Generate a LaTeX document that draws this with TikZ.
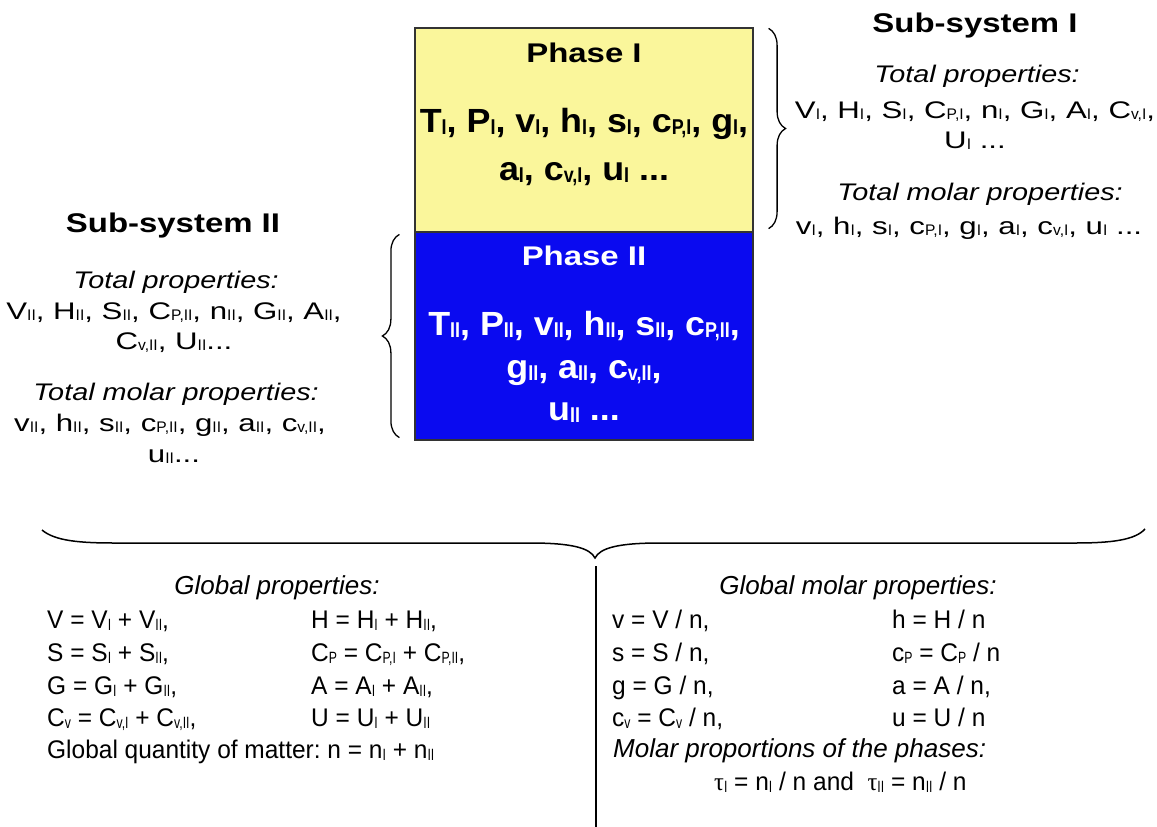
\documentclass[tikz,border=0pt]{standalone}
\usepackage{fontspec}
\usepackage{graphicx}
\setmainfont{Liberation Sans}
\newfontfamily\widefont{Liberation Sans}[FakeStretch=1.2]
\newfontfamily\sidefont{Liberation Sans}[FakeStretch=1.3]
\newfontfamily\titlefont{Liberation Sans}[FakeStretch=1.22]
\newfontfamily\boxfont{Liberation Sans}[FakeStretch=1.07]
\newfontfamily\globfont{Liberation Sans}[FakeStretch=0.96]
\newfontfamily\greekfont{Liberation Serif}[FakeStretch=0.96]
\usetikzlibrary{decorations.pathreplacing}
\newcommand\sbs[1]{\raisebox{-0.08em}{\scalebox{0.5}[0.64]{#1}}}
\definecolor{phaseyellow}{RGB}{250,246,155}
\definecolor{phaseblue}{RGB}{10,10,240}
\frenchspacing
\begin{document}
\begin{tikzpicture}[x=1pt,y=-1pt,
  phasebox/.style={draw=black!80, line width=1.2pt, minimum width=338pt, inner sep=0pt},
  titletext/.style={anchor=base, inner sep=0pt, font=\titlefont\bfseries\fontsize{27}{30}\selectfont},
  sidehead/.style={anchor=base, inner sep=0pt, font=\widefont\itshape\fontsize{24}{28}\selectfont},
  sidetext/.style={anchor=base, inner sep=0pt, font=\sidefont\fontsize{24}{28}\selectfont},
  boxtext/.style={anchor=base, inner sep=0pt, font=\boxfont\bfseries\fontsize{33.5}{36}\selectfont},
  globhead/.style={anchor=base, inner sep=0pt, font=\itshape\fontsize{26}{30}\selectfont},
  globital/.style={anchor=base west, inner sep=0pt, font=\itshape\fontsize{26}{30}\selectfont},
  globtext/.style={anchor=base west, inner sep=0pt, font=\globfont\fontsize{25.5}{30}\selectfont},
  sidebrace/.style={draw, line width=1.3pt, decorate, decoration={brace, amplitude=17pt}},
  bigbrace/.style={draw, line width=1.5pt},
  divider/.style={draw, line width=1.3pt}
]
\useasboundingbox (0,0) rectangle (1157,827);

% phase boxes
\node[phasebox, fill=phaseyellow, minimum height=204pt] (p1) at (584,130) {};
\node[phasebox, fill=phaseblue, minimum height=208pt] (p2) at (584,336) {};

% side braces
\draw[sidebrace] ([xshift=15pt,yshift=-1pt]p1.north east) -- ([xshift=15pt,yshift=4pt]p1.south east);
\draw[sidebrace] ([xshift=-15pt,yshift=3pt]p2.south west) -- ([xshift=-15pt,yshift=-3pt]p2.north west);

% box texts
\node[titletext] (p1t) at (584,62) {Phase I};
\node[boxtext] (p1l1) at (584,132) {T\sbs{I}, P\sbs{I}, v\sbs{I}, h\sbs{I}, s\sbs{I}, c\sbs{P,I}, g\sbs{I},};
\node[boxtext] (p1l2) at (584,180) {a\sbs{I}, c\sbs{v,I}, u\sbs{I} ...};
\node[titletext, text=white] (p2t) at (584,265) {Phase II};
\node[boxtext, text=white] (p2l1) at (584,335) {T\sbs{II}, P\sbs{II}, v\sbs{II}, h\sbs{II}, s\sbs{II}, c\sbs{P,II},};
\node[boxtext, text=white] (p2l2) at (584,378) {g\sbs{II}, a\sbs{II}, c\sbs{v,II},};
\node[boxtext, text=white] (p2l3) at (584,420) {u\sbs{II} ...};

% sub-system I
\node[titletext] (s1) at (975,32) {Sub-system I};
\node[sidehead] (s1h1) at (977,82) {Total properties:};
\node[sidetext] (s1l1) at (975,118) {V\sbs{I}, H\sbs{I}, S\sbs{I}, C\sbs{P,I}, n\sbs{I}, G\sbs{I}, A\sbs{I}, C\sbs{v,I},};
\node[sidetext] (s1l2) at (975,148) {U\sbs{I} ...};
\node[sidehead] (s1h2) at (980,200) {Total molar properties:};
\node[sidetext] (s1l3) at (969,234) {v\sbs{I}, h\sbs{I}, s\sbs{I}, c\sbs{P,I}, g\sbs{I}, a\sbs{I}, c\sbs{v,I}, u\sbs{I} ...};

% sub-system II
\node[titletext] (s2) at (173,232) {Sub-system II};
\node[sidehead] (s2h1) at (176,288) {Total properties:};
\node[sidetext] (s2l1) at (174,319) {V\sbs{II}, H\sbs{II}, S\sbs{II}, C\sbs{P,II}, n\sbs{II}, G\sbs{II}, A\sbs{II},};
\node[sidetext] (s2l2) at (174,349) {C\sbs{v,II}, U\sbs{II}...};
\node[sidehead] (s2h2) at (176,400) {Total molar properties:};
\node[sidetext] (s2l3) at (170,431) {v\sbs{II}, h\sbs{II}, s\sbs{II}, c\sbs{P,II}, g\sbs{II}, a\sbs{II}, c\sbs{v,II},};
\node[sidetext] (s2l4) at (174,462) {u\sbs{II}...};

% big brace
\coordinate (bl) at (42,530);
\coordinate (br) at (1145,529);
\coordinate (tip) at (595,558);
\coordinate (vt) at (596,566);
\coordinate (vb) at (596,830);
\draw[bigbrace] (bl) .. controls (55,541) and (80,543) .. (115,543) -- (530,543)
  .. controls (572,543) and (590,548) .. (tip)
  .. controls (600,548) and (618,543) .. (660,543) -- (1075,543)
  .. controls (1112,543) and (1135,540) .. (br);
\draw[divider] (vt) -- (vb);

% global properties
\node[globhead] (gh) at (277,594) {Global properties:};
\node[globtext] (g1a) at (47,628) {V = V\sbs{I} + V\sbs{II},};
\node[globtext] (g1b) at (311,628) {H = H\sbs{I} + H\sbs{II},};
\node[globtext] (g2a) at (47,661) {S = S\sbs{I} + S\sbs{II},};
\node[globtext] (g2b) at (311,661) {C\sbs{P} = C\sbs{P,I} + C\sbs{P,II},};
\node[globtext] (g3a) at (47,694) {G = G\sbs{I} + G\sbs{II},};
\node[globtext] (g3b) at (311,694) {A = A\sbs{I} + A\sbs{II},};
\node[globtext] (g4a) at (47,726) {C\sbs{v} = C\sbs{v,I} + C\sbs{v,II},};
\node[globtext] (g4b) at (311,726) {U = U\sbs{I} + U\sbs{II}};
\node[globtext] (g5) at (47,758) {Global quantity of matter: n = n\sbs{I} + n\sbs{II}};

% global molar properties
\node[globhead] (mh) at (858,594) {Global molar properties:};
\node[globtext] (m1a) at (612,628) {v = V / n,};
\node[globtext] (m1b) at (892,628) {h = H / n};
\node[globtext] (m2a) at (612,661) {s = S / n,};
\node[globtext] (m2b) at (892,661) {c\sbs{P} = C\sbs{P} / n};
\node[globtext] (m3a) at (612,694) {g = G / n,};
\node[globtext] (m3b) at (892,694) {a = A / n,};
\node[globtext] (m4a) at (612,726) {c\sbs{v} = C\sbs{v} / n,};
\node[globtext] (m4b) at (892,726) {u = U / n};
\node[globital] (m5) at (613,757) {Molar proportions of the phases:};
\node[globtext] (m6) at (714,790) {{\greekfont τ}\sbs{I} = n\sbs{I} / n and\ \ {\greekfont τ}\sbs{II} = n\sbs{II} / n};
\end{tikzpicture}
\end{document}
